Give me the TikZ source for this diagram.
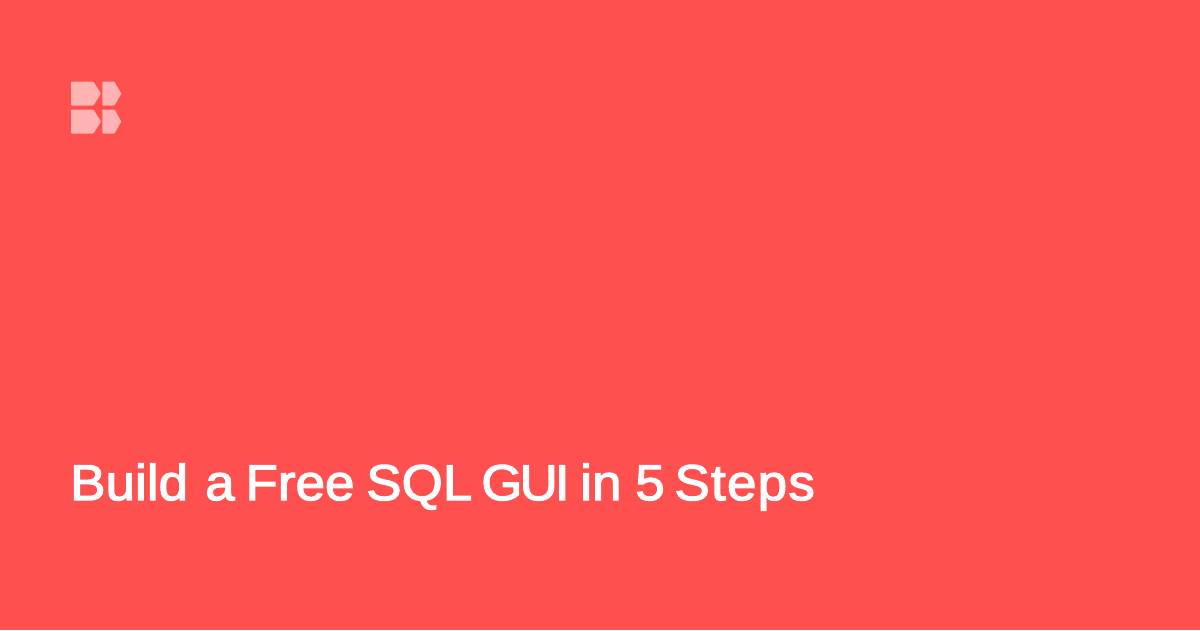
\documentclass[tikz,border=0pt]{standalone}
\usepackage{fontspec}
\newfontfamily\titlefont{Liberation Sans}[FakeStretch=1.05]
\definecolor{bgred}{HTML}{FF5050}
\definecolor{logopink}{HTML}{FFB3B3}
\tikzset{logopiece/.style={fill=logopink,draw=none,rounded corners=0.8pt},
 titletext/.style={text=white,inner sep=0pt,anchor=base west,font=\titlefont\fontsize{50.5}{60}\selectfont}}
\begin{document}
\begin{tikzpicture}[x=1pt,y=-1pt]
\useasboundingbox (0,0) rectangle (1200,630);
\fill[bgred] (0,0) rectangle (1200,630);
\fill[logopiece] (71,81.7) -- (93.5,81.7) -- (101,93.6) -- (93.5,105.5) -- (71,105.5) -- cycle;
\fill[logopiece] (102.3,81.7) -- (114.5,81.7) -- (121.3,93.6) -- (114.5,105.5) -- (102.3,105.5) -- cycle;
\fill[logopiece] (71,109.5) -- (93.5,109.5) -- (101,121.5) -- (93.5,133.5) -- (71,133.5) -- cycle;
\fill[logopiece] (102.3,109.5) -- (114.5,109.5) -- (121.3,121.5) -- (114.5,133.5) -- (102.3,133.5) -- cycle;
\node[titletext] (title) at (70,500.1) {\special{pdf:literal direct 1 1 1 RG 1 1 1 rg 1.2 w 2 Tr}Build\kern2.5pt\ a\kern-4pt\ Free\kern-3pt\ SQL\kern-5.8pt\ G\kern-3pt U\kern-3pt I\kern-4pt\ in\kern-1pt\ 5\kern-5pt\ S\kern1.2pt t\kern1.2pt e\kern1.2pt p\kern1.2pt s\special{pdf:literal direct 0 Tr}};
\end{tikzpicture}
\end{document}
